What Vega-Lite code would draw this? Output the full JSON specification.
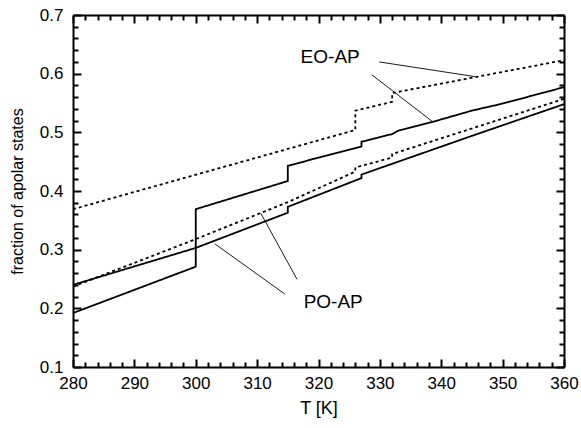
{
  "$schema": "https://vega.github.io/schema/vega-lite/v6.json",
  "width": 491,
  "height": 352,
  "autosize": {"type": "none"},
  "padding": {"left": 73, "top": 15, "right": 17, "bottom": 61},
  "background": "white",
  "config": {
    "view": {"stroke": null}
  },
  "data": {
    "values": [
      {"s": "A", "dash": "solid", "i": 0, "T": 280, "f": 0.192},
      {"s": "A", "dash": "solid", "i": 1, "T": 300, "f": 0.271},
      {"s": "A", "dash": "solid", "i": 2, "T": 300, "f": 0.369},
      {"s": "A", "dash": "solid", "i": 3, "T": 315, "f": 0.417},
      {"s": "A", "dash": "solid", "i": 4, "T": 315, "f": 0.443},
      {"s": "A", "dash": "solid", "i": 5, "T": 327, "f": 0.476},
      {"s": "A", "dash": "solid", "i": 6, "T": 327, "f": 0.484},
      {"s": "A", "dash": "solid", "i": 7, "T": 332, "f": 0.497},
      {"s": "A", "dash": "solid", "i": 8, "T": 333, "f": 0.503},
      {"s": "A", "dash": "solid", "i": 9, "T": 339, "f": 0.519},
      {"s": "A", "dash": "solid", "i": 10, "T": 345, "f": 0.537},
      {"s": "A", "dash": "solid", "i": 11, "T": 350, "f": 0.549},
      {"s": "A", "dash": "solid", "i": 12, "T": 360, "f": 0.577},
      {"s": "B", "dash": "solid", "i": 0, "T": 280, "f": 0.240},
      {"s": "B", "dash": "solid", "i": 1, "T": 300, "f": 0.303},
      {"s": "B", "dash": "solid", "i": 2, "T": 315, "f": 0.363},
      {"s": "B", "dash": "solid", "i": 3, "T": 315, "f": 0.373},
      {"s": "B", "dash": "solid", "i": 4, "T": 327, "f": 0.422},
      {"s": "B", "dash": "solid", "i": 5, "T": 327, "f": 0.428},
      {"s": "B", "dash": "solid", "i": 6, "T": 345, "f": 0.494},
      {"s": "B", "dash": "solid", "i": 7, "T": 360, "f": 0.548},
      {"s": "C", "dash": "dotted", "i": 0, "T": 280, "f": 0.369},
      {"s": "C", "dash": "dotted", "i": 1, "T": 326, "f": 0.504},
      {"s": "C", "dash": "dotted", "i": 2, "T": 326, "f": 0.537},
      {"s": "C", "dash": "dotted", "i": 3, "T": 332, "f": 0.552},
      {"s": "C", "dash": "dotted", "i": 4, "T": 332, "f": 0.567},
      {"s": "C", "dash": "dotted", "i": 5, "T": 360, "f": 0.623},
      {"s": "D", "dash": "dotted", "i": 0, "T": 280, "f": 0.237},
      {"s": "D", "dash": "dotted", "i": 1, "T": 300, "f": 0.318},
      {"s": "D", "dash": "dotted", "i": 2, "T": 315, "f": 0.381},
      {"s": "D", "dash": "dotted", "i": 3, "T": 326, "f": 0.433},
      {"s": "D", "dash": "dotted", "i": 4, "T": 326, "f": 0.440},
      {"s": "D", "dash": "dotted", "i": 5, "T": 332, "f": 0.457},
      {"s": "D", "dash": "dotted", "i": 6, "T": 332, "f": 0.463},
      {"s": "D", "dash": "dotted", "i": 7, "T": 360, "f": 0.557}
    ]
  },
  "resolve": {"scale": {"x": "shared", "y": "shared"}, "axis": {"x": "independent", "y": "independent"}},
  "layer": [
    {
      "mark": {"type": "line", "color": "black", "strokeWidth": 1.8},
      "encoding": {
        "x": {"field": "T", "type": "quantitative", "scale": {"domain": [280, 360], "nice": false, "zero": false},
          "axis": {"orient": "bottom", "grid": false, "domain": true, "domainColor": "black", "domainWidth": 2, "title": "T [K]", "titleFont": "Liberation Sans", "titleFontWeight": "normal", "titleColor": "black", "titleFontSize": 18, "titlePadding": 8, "values": [280, 290, 300, 310, 320, 330, 340, 350, 360], "tickColor": "black", "tickSize": -8, "tickWidth": 2, "labelFont": "Liberation Sans", "labelColor": "black", "labelFlush": false, "labelFontSize": 17, "labelPadding": 16, "format": "d"}},
        "y": {"field": "f", "type": "quantitative", "scale": {"domain": [0.1, 0.7], "nice": false, "zero": false},
          "axis": {"orient": "left", "grid": false, "domain": true, "domainColor": "black", "domainWidth": 2, "title": "fraction of apolar states", "titleFont": "Liberation Sans", "titleFontWeight": "normal", "titleColor": "black", "titleFontSize": 16, "titlePadding": 14, "values": [0.1, 0.2, 0.3, 0.4, 0.5, 0.6, 0.7], "tickColor": "black", "tickSize": -8, "tickWidth": 2, "labelFont": "Liberation Sans", "labelColor": "black", "labelFlush": false, "labelFontSize": 17, "labelPadding": 18, "format": ".1f", "labelBaseline": "middle"}},
        "detail": {"field": "s"},
        "strokeDash": {"field": "dash", "type": "nominal", "scale": {"domain": ["solid", "dotted"], "range": [[1, 0], [3, 3]]}, "legend": null},
        "order": {"field": "i", "type": "quantitative"}
      }
    },
    {
      "mark": {"type": "point", "opacity": 0},
      "encoding": {
        "x": {"field": "T", "type": "quantitative", "axis": {"orient": "bottom", "grid": false, "domain": false, "title": null, "labels": false, "values": [282, 284, 286, 288, 292, 294, 296, 298, 302, 304, 306, 308, 312, 314, 316, 318, 322, 324, 326, 328, 332, 334, 336, 338, 342, 344, 346, 348, 352, 354, 356, 358], "tickColor": "black", "tickSize": -5, "tickWidth": 2}},
        "y": {"field": "f", "type": "quantitative", "axis": {"orient": "left", "grid": false, "domain": false, "title": null, "labels": false, "values": [0.12, 0.14, 0.16, 0.18, 0.22, 0.24, 0.26, 0.28, 0.32, 0.34, 0.36, 0.38, 0.42, 0.44, 0.46, 0.48, 0.52, 0.54, 0.56, 0.58, 0.62, 0.64, 0.66, 0.68], "tickColor": "black", "tickSize": -5, "tickWidth": 2}}
      }
    },
    {
      "mark": {"type": "point", "opacity": 0},
      "encoding": {
        "x": {"field": "T", "type": "quantitative", "axis": {"orient": "top", "grid": false, "domain": true, "domainColor": "black", "domainWidth": 2, "title": null, "labels": false, "values": [280, 290, 300, 310, 320, 330, 340, 350, 360], "tickColor": "black", "tickSize": -8, "tickWidth": 2}},
        "y": {"field": "f", "type": "quantitative", "axis": {"orient": "right", "grid": false, "domain": true, "domainColor": "black", "domainWidth": 2, "title": null, "labels": false, "values": [0.1, 0.2, 0.3, 0.4, 0.5, 0.6, 0.7], "tickColor": "black", "tickSize": -8, "tickWidth": 2}}
      }
    },
    {
      "mark": {"type": "point", "opacity": 0},
      "encoding": {
        "x": {"field": "T", "type": "quantitative", "axis": {"orient": "top", "grid": false, "domain": false, "title": null, "labels": false, "values": [282, 284, 286, 288, 292, 294, 296, 298, 302, 304, 306, 308, 312, 314, 316, 318, 322, 324, 326, 328, 332, 334, 336, 338, 342, 344, 346, 348, 352, 354, 356, 358], "tickColor": "black", "tickSize": -5, "tickWidth": 2}},
        "y": {"field": "f", "type": "quantitative", "axis": {"orient": "right", "grid": false, "domain": false, "title": null, "labels": false, "values": [0.12, 0.14, 0.16, 0.18, 0.22, 0.24, 0.26, 0.28, 0.32, 0.34, 0.36, 0.38, 0.42, 0.44, 0.46, 0.48, 0.52, 0.54, 0.56, 0.58, 0.62, 0.64, 0.66, 0.68], "tickColor": "black", "tickSize": -5, "tickWidth": 2}}
      }
    },
    {
      "data": {
        "values": [
          {"x1": 329.9, "y1": 0.620, "x2": 345.5, "y2": 0.595},
          {"x1": 328.7, "y1": 0.598, "x2": 338.6, "y2": 0.518},
          {"x1": 314.5, "y1": 0.2245, "x2": 303.1, "y2": 0.310},
          {"x1": 316.5, "y1": 0.2495, "x2": 310.6, "y2": 0.362}
        ]
      },
      "mark": {"type": "rule", "color": "black", "strokeWidth": 0.9},
      "encoding": {
        "x": {"field": "x1", "type": "quantitative", "axis": null},
        "y": {"field": "y1", "type": "quantitative", "axis": null},
        "x2": {"field": "x2"},
        "y2": {"field": "y2"}
      }
    },
    {
      "data": {
        "values": [
          {"label": "EO-AP", "x": 321.9, "y": 0.628},
          {"label": "PO-AP", "x": 322.4, "y": 0.211}
        ]
      },
      "mark": {"type": "text", "fontSize": 19, "font": "Liberation Sans", "color": "black", "align": "center", "baseline": "middle"},
      "encoding": {
        "x": {"field": "x", "type": "quantitative", "axis": null},
        "y": {"field": "y", "type": "quantitative", "axis": null},
        "text": {"field": "label"}
      }
    }
  ]
}
